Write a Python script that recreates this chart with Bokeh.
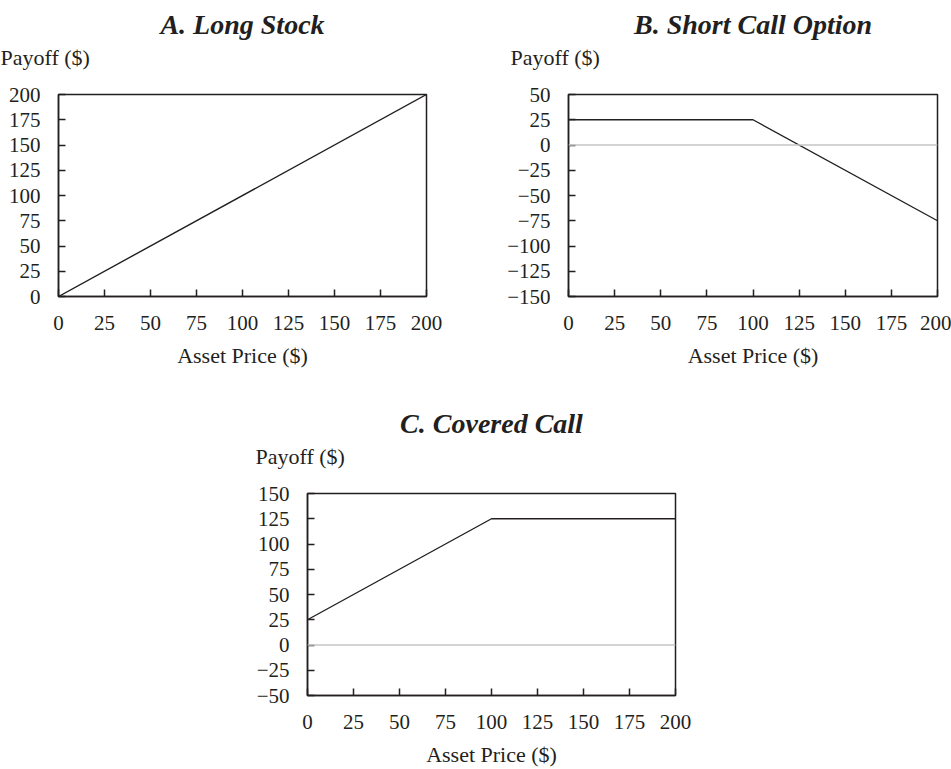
from bokeh.plotting import figure
from bokeh.models import Range1d, Span, Title, Spacer
from bokeh.layouts import row, column
from bokeh.embed import file_html
from bokeh.resources import INLINE

# ---- data ----
price_a = [0, 200]
payoff_a = [0, 200]
price_b = [0, 100, 200]
payoff_b = [25, 25, -75]
price_c = [0, 100, 200]
payoff_c = [25, 125, 125]

x_ticks = [0, 25, 50, 75, 100, 125, 150, 175, 200]
y_ticks_a = [0, 25, 50, 75, 100, 125, 150, 175, 200]
y_ticks_b = [-150, -125, -100, -75, -50, -25, 0, 25, 50]
y_ticks_c = [-50, -25, 0, 25, 50, 75, 100, 125, 150]

titles = ["A. Long Stock", "B. Short Call Option", "C. Covered Call"]
x_label = "Asset Price ($)"
y_label = "Payoff ($)"

FONT = "Liberation Serif"
INK = "#231f20"


def lab(v):
    return str(v).replace("-", "\u2212")


def make(title, xs, ys, yticks, ml, fw, mr, mb, payoff_offset, zero_line):
    p = figure(frame_width=fw, frame_height=202,
               x_range=Range1d(x_ticks[0], x_ticks[-1]),
               y_range=Range1d(yticks[0], yticks[-1]),
               output_backend="svg", toolbar_location=None, title=None,
               min_border_left=ml, min_border_right=mr,
               min_border_top=94, min_border_bottom=mb,
               background_fill_color="white", border_fill_color="white")
    p.grid.visible = False
    p.outline_line_color = INK
    p.outline_line_width = 1.5
    p.outline_line_alpha = 1.0

    if zero_line:
        p.add_layout(Span(location=0, dimension="width", line_color="#c4c4c4",
                          line_width=1.3))
    p.line(xs, ys, line_color=INK, line_width=1.4)

    for ax, ticks in ((p.xaxis, x_ticks), (p.yaxis, yticks)):
        ax.ticker = ticks
        ax.major_label_overrides = {v: lab(v) for v in ticks}
        ax.major_tick_in = 7
        ax.major_tick_out = 0
        ax.minor_tick_line_color = None
        ax.axis_line_color = INK
        ax.axis_line_width = 1.5
        ax.major_tick_line_color = INK
        ax.major_tick_line_width = 1.5
        ax.major_label_text_font = FONT
        ax.major_label_text_font_size = "21px"
        ax.major_label_text_color = INK
    p.xaxis.major_label_standoff = 19
    p.yaxis.major_label_standoff = 18
    p.xaxis.axis_label = x_label
    p.xaxis.axis_label_text_font = FONT
    p.xaxis.axis_label_text_font_size = "22px"
    p.xaxis.axis_label_text_font_style = "normal"
    p.xaxis.axis_label_text_color = INK
    p.xaxis.axis_label_standoff = 10

    # y label sits above the frame; the blank second line lifts it off the box
    p.add_layout(Title(text=y_label + "\n ", align="left", offset=payoff_offset,
                       standoff=0, vertical_align="bottom", text_font=FONT,
                       text_font_size="22px", text_font_style="normal",
                       text_color=INK), "above")
    p.add_layout(Title(text=title, align="center", standoff=6,
                       text_font=FONT, text_font_size="28px",
                       text_font_style="bold italic", text_color=INK), "above")
    return p


pa = make(titles[0], price_a, payoff_a, y_ticks_a, 58, 368, 42, 103, -58, False)
pb = make(titles[1], price_b, payoff_b, y_ticks_b, 100, 369, 14, 103, -58, True)
pc = make(titles[2], price_c, payoff_c, y_ticks_c, 100, 368, 20, 73, -52, True)

layout = column(row(pa, pb), row(Spacer(width=207, height=10), pc))

open("out.html", "w").write(file_html(layout, INLINE))
